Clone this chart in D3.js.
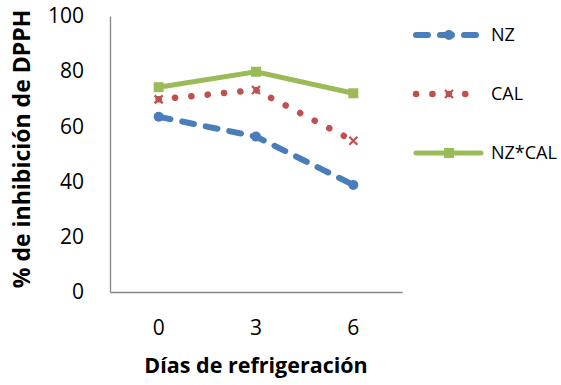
<!DOCTYPE html>
<html>
<head>
<meta charset="utf-8">
<script src="https://cdn.jsdelivr.net/npm/d3@7"></script>
<style>
  body { margin: 0; background: #fff; }
  svg { display: block; font-family: "Open Sans", sans-serif; }
</style>
</head>
<body>
<svg id="chart" width="561" height="385"></svg>
<script>
// data
const days = ['0', '3', '6'];
const nz = [63.5, 56.3, 38.8];
const cal = [69.8, 73.2, 54.8];
const nzCal = [74.2, 79.8, 72.0];
const yTicks = [0, 20, 40, 60, 80, 100];

const series = [
  { name: 'NZ', values: nz, color: '#4A7EBB', dash: '12,12', width: 6, marker: 'circle' },
  { name: 'CAL', values: cal, color: '#C0504D', dash: '0.1,16.3', width: 6.5, marker: 'cross' },
  { name: 'NZ*CAL', values: nzCal, color: '#9BBB59', dash: null, width: 5, marker: 'square' }
];

const svg = d3.select('#chart');
const plotL = 110, plotR = 402, plotT = 16, plotB = 292;

const x = d3.scaleBand().domain(days).range([plotL, plotR]);
const y = d3.scaleLinear().domain([0, 100]).range([plotB, plotT]);

// axes
const yAxis = svg.append('g')
  .attr('transform', `translate(${plotL},0)`)
  .call(d3.axisLeft(y).tickValues(yTicks).tickSize(0).tickPadding(26));
const xAxis = svg.append('g')
  .attr('transform', `translate(0,${plotB})`)
  .call(d3.axisBottom(x).tickSize(0).tickPadding(28));
[yAxis, xAxis].forEach(a => {
  a.select('.domain').attr('stroke', '#868686').attr('stroke-width', 1.3);
  a.selectAll('text').attr('font-family', '"Open Sans", sans-serif')
    .attr('font-size', 21).attr('fill', '#000');
});

// axis titles
svg.append('text')
  .attr('x', 256).attr('y', 373)
  .attr('text-anchor', 'middle')
  .attr('font-size', 21.5).attr('font-weight', 'bold')
  .text('Días de refrigeración');
svg.append('text')
  .attr('transform', `translate(30,149) rotate(-90)`)
  .attr('text-anchor', 'middle')
  .attr('font-size', 23).attr('font-weight', 'bold')
  .text('% de inhibición de DPPH');

const line = d3.line()
  .x((d, i) => x(days[i]) + x.bandwidth() / 2)
  .y(d => y(d));

function drawMarker(g, s, cx, cy) {
  if (s.marker === 'circle') {
    g.append('circle').attr('cx', cx).attr('cy', cy).attr('r', 5).attr('fill', s.color);
  } else if (s.marker === 'square') {
    g.append('rect').attr('x', cx - 5).attr('y', cy - 5).attr('width', 10).attr('height', 10).attr('fill', s.color);
  } else {
    g.append('path')
      .attr('d', `M${cx - 4},${cy - 4}L${cx + 4},${cy + 4}M${cx - 4},${cy + 4}L${cx + 4},${cy - 4}`)
      .attr('stroke', s.color).attr('stroke-width', 2.2);
  }
}

series.forEach(s => {
  const g = svg.append('g');
  g.append('path')
    .datum(s.values)
    .attr('d', line)
    .attr('fill', 'none')
    .attr('stroke', s.color)
    .attr('stroke-width', s.width)
    .attr('stroke-linecap', 'round')
    .attr('stroke-dasharray', s.dash);
  s.values.forEach((v, i) => drawMarker(g, s, x(days[i]) + x.bandwidth() / 2, y(v)));
});

// legend
const legendY = [35, 94, 153];
series.forEach((s, i) => {
  const g = svg.append('g');
  const ly = legendY[i];
  g.append('line')
    .attr('x1', 416).attr('x2', 481).attr('y1', ly).attr('y2', ly)
    .attr('stroke', s.color).attr('stroke-width', s.width)
    .attr('stroke-linecap', 'round')
    .attr('stroke-dasharray', s.dash);
  drawMarker(g, s, 449, ly);
  g.append('text')
    .attr('x', 491).attr('y', ly).attr('dy', '0.36em')
    .attr('font-size', 18)
    .text(s.name);
});
</script>
</body>
</html>
